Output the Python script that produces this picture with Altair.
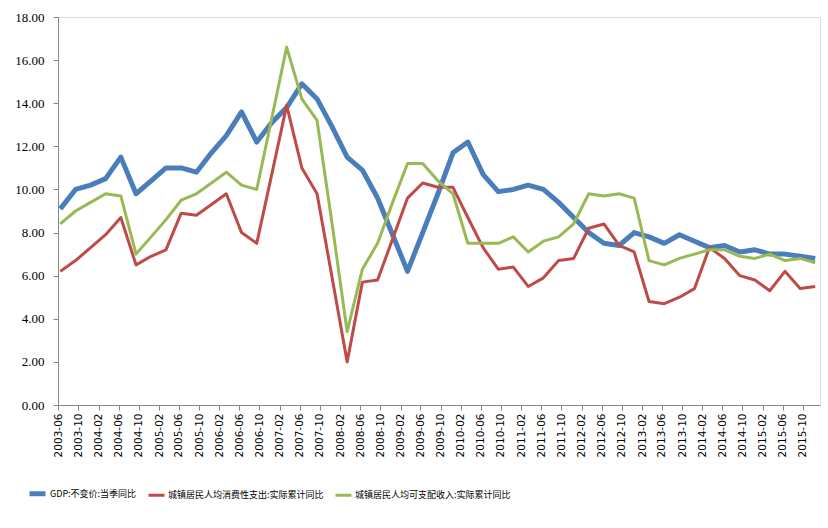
import altair as alt
import pandas as pd

# Quarter-end months, 2003-06 .. 2015-12
quarters = [f"{y}-{m:02d}" for y in range(2003, 2016) for m in (3, 6, 9, 12)][1:]

gdp = [9.1, 10.0, 10.2, 10.5, 11.5, 9.8, 10.4, 11.0, 11.0, 10.8,
       11.7, 12.5, 13.6, 12.2, 13.1, 13.8, 14.9, 14.2, 12.9, 11.5,
       10.9, 9.6, 7.9, 6.2, 8.0, 9.8, 11.7, 12.2, 10.7, 9.9,
       10.0, 10.2, 10.0, 9.4, 8.7, 8.0, 7.5, 7.4, 8.0, 7.8,
       7.5, 7.9, 7.6, 7.3, 7.4, 7.1, 7.2, 7.0, 7.0, 6.9, 6.8]

consumption = [6.2, 6.7, 7.3, 7.9, 8.7, 6.5, 6.9, 7.2, 8.9, 8.8,
               9.3, 9.8, 8.0, 7.5, 10.7, 13.9, 11.0, 9.8, 5.9, 2.0,
               5.7, 5.8, 7.7, 9.6, 10.3, 10.1, 10.1, 8.7, 7.3, 6.3,
               6.4, 5.5, 5.9, 6.7, 6.8, 8.2, 8.4, 7.4, 7.1, 4.8,
               4.7, 5.0, 5.4, 7.3, 6.8, 6.0, 5.8, 5.3, 6.2, 5.4, 5.5]

income = [8.4, 9.0, 9.4, 9.8, 9.7, 7.0, 7.8, 8.6, 9.5, 9.8,
          10.3, 10.8, 10.2, 10.0, 13.3, 16.6, 14.2, 13.2, 8.4, 3.4,
          6.3, 7.5, 9.4, 11.2, 11.2, 10.4, 9.8, 7.5, 7.5, 7.5,
          7.8, 7.1, 7.6, 7.8, 8.4, 9.8, 9.7, 9.8, 9.6, 6.7,
          6.5, 6.8, 7.0, 7.2, 7.2, 6.9, 6.8, 7.0, 6.7, 6.8, 6.6]

series_names = ["GDP:不变价:当季同比",
                "城镇居民人均消费性支出:实际累计同比",
                "城镇居民人均可支配收入:实际累计同比"]
series_colors = ["#4A7EBB", "#BE4B48", "#98B954"]
series_widths = [5, 3, 3]

rows = []
for name, vals in zip(series_names, [gdp, consumption, income]):
    for q, v in zip(quarters, vals):
        rows.append({"date": q + "-15T00:00:00", "series": name, "value": v})
df = pd.DataFrame(rows)

tick_dates = []
y, m = 2003, 6
while (y, m) <= (2015, 10):
    tick_dates.append(alt.DateTime(year=y, month=m, date=1))
    m += 4
    if m > 12:
        m -= 12
        y += 1

legend_common = dict(
    orient="none", legendX=-31, legendY=466, direction="horizontal",
    symbolType="stroke", symbolSize=256, labelFont="Noto Sans CJK SC",
    labelFontSize=9, labelColor="#000000", labelLimit=400,
    columnPadding=5, labelOffset=2, padding=0, title=None,
)

chart = alt.Chart(df).mark_line(strokeJoin="round").encode(
    x=alt.X("date:T",
            scale=alt.Scale(domain=[alt.DateTime(year=2003, month=6, date=1),
                                    alt.DateTime(year=2016, month=1, date=13)]),
            axis=alt.Axis(values=tick_dates, format="%Y-%m", labelAngle=-90,
                          labelFont="DejaVu Sans", labelFontSize=10.5,
                          labelColor="#000000", tickSize=5, labelPadding=3,
                          grid=False, domainColor="#868686", tickColor="#868686"),
            title=None),
    y=alt.Y("value:Q",
            scale=alt.Scale(domain=[0, 18]),
            axis=alt.Axis(values=list(range(0, 19, 2)), format=".2f",
                          labelFont="Liberation Serif", labelFontSize=13,
                          labelColor="#000000", tickSize=5, labelPadding=9,
                          grid=False, domainColor="#868686", tickColor="#868686"),
            title=None),
    color=alt.Color("series:N",
                    scale=alt.Scale(domain=series_names, range=series_colors),
                    legend=alt.Legend(**legend_common)),
    strokeWidth=alt.StrokeWidth("series:N",
                                scale=alt.Scale(type="ordinal", domain=series_names,
                                                range=series_widths),
                                legend=alt.Legend(**legend_common)),
).properties(
    width=762, height=388,
    autosize=alt.AutoSizeParams(type="none"),
    padding={"left": 58, "top": 17, "right": 8, "bottom": 123},
).configure_view(stroke=None).configure(background="#ffffff")

chart.save("out.html", embed_options={"renderer": "svg", "actions": False})
